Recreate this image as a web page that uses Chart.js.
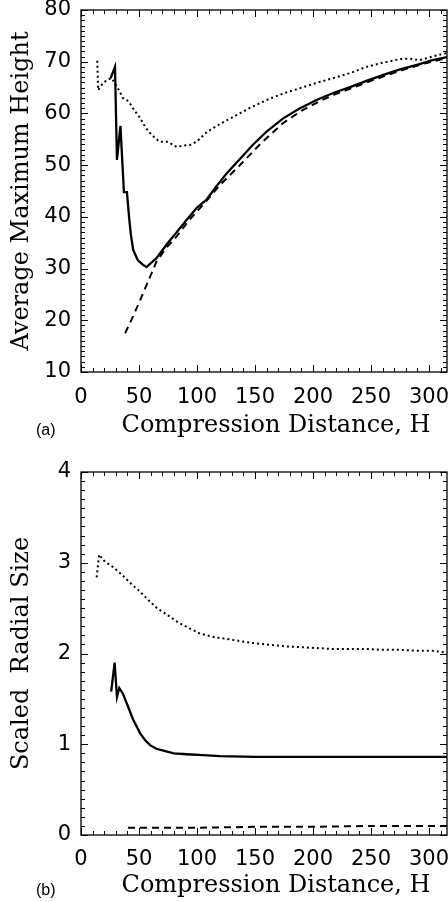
<!DOCTYPE html>
<html>
<head>
<meta charset="utf-8">
<script src="https://cdn.jsdelivr.net/npm/chart.js@4.4.1/dist/chart.umd.min.js"></script>
<style>
  body { margin: 0; background: #fff; }
  .panel { position: absolute; left: 0; }
</style>
</head>
<body>
<div class="panel" style="top:0"><canvas id="chartA" width="448" height="450"></canvas></div>
<div class="panel" style="top:450px"><canvas id="chartB" width="448" height="452"></canvas></div>
<script>
// (a) average maximum height vs compression distance
const aSolidH = [25.5, 29.3, 31, 34, 37, 39.6, 41.5, 43, 45, 49, 53, 56.5, 60, 65, 70, 75, 82, 91, 100, 108.5, 117, 125.5, 137, 148, 160, 174, 188, 203, 218, 232, 246, 260, 275, 289.5, 303, 315.5];
const aSolidVal = [66.8, 69.0, 51.0, 57.6, 44.8, 44.8, 39.8, 36.5, 33.6, 31.6, 30.8, 30.3, 31.0, 32.0, 33.5, 35.0, 36.9, 39.4, 41.8, 43.4, 46.0, 48.4, 51.2, 53.9, 56.5, 59.0, 60.9, 62.6, 64.0, 65.1, 66.3, 67.4, 68.5, 69.4, 70.3, 70.9];
const aDashH = [38, 45, 51, 58, 65, 73, 82, 93, 105, 120, 137, 155, 174, 190, 205, 220, 235, 250, 265, 280, 295, 310, 315.5];
const aDashVal = [17.5, 20.8, 23.9, 27.6, 31.3, 33.9, 36.1, 39.3, 42.3, 46.2, 50.0, 54.2, 58.1, 60.5, 62.3, 63.8, 65.0, 66.3, 67.5, 68.6, 69.6, 70.4, 70.7];
const aDotH = [14, 14.8, 19, 23.6, 26.4, 29, 33, 36, 39.5, 42, 46, 51, 55, 59.5, 64, 68, 75, 82.5, 88, 94, 100, 108.5, 120, 131, 145, 160, 175, 189, 203, 217, 232, 246, 260, 275, 283, 292, 303, 315.5];
const aDotVal = [70.2, 64.5, 65.9, 66.6, 66.8, 65.9, 64.4, 63.0, 62.6, 62.0, 60.6, 59.1, 57.5, 56.2, 55.2, 54.5, 54.5, 53.5, 53.8, 53.9, 54.6, 56.4, 58.0, 59.3, 61.0, 62.6, 63.9, 64.9, 65.9, 66.8, 67.8, 69.0, 69.8, 70.5, 70.6, 70.3, 71.0, 71.7];

// (b) scaled radial size vs compression distance
const bSolidH = [26, 29, 31, 33, 36, 40.7, 45, 51, 55, 59.5, 65, 71, 80, 91, 105, 120, 150, 200, 250, 300, 315.5];
const bSolidVal = [1.58, 1.90, 1.52, 1.62, 1.56, 1.41, 1.27, 1.12, 1.05, 0.99, 0.95, 0.93, 0.90, 0.89, 0.88, 0.87, 0.86, 0.86, 0.86, 0.86, 0.86];
const bDashH = [40.5, 100, 150, 200, 250, 315.5];
const bDashVal = [0.08, 0.08, 0.09, 0.09, 0.10, 0.10];
const bDotH = [13.5, 15.6, 20.7, 28, 36, 43, 51, 58, 65.5, 75, 84, 93, 102.5, 115, 131, 145, 160, 175, 189, 203, 217, 232, 246, 260, 275, 290, 303, 315.5];
const bDotVal = [2.84, 3.09, 3.01, 2.95, 2.86, 2.77, 2.68, 2.59, 2.50, 2.42, 2.34, 2.28, 2.22, 2.18, 2.15, 2.12, 2.10, 2.08, 2.07, 2.06, 2.05, 2.05, 2.05, 2.04, 2.04, 2.03, 2.03, 2.01];

const xTicks = [0, 50, 100, 150, 200, 250, 300];
const yTicksA = [10, 20, 30, 40, 50, 60, 70, 80];
const yTicksB = [0, 1, 2, 3, 4];

const pts = (hs, vs) => hs.map((h, i) => ({ x: h, y: vs[i] }));

// box, inward major/minor ticks on all four sides, x title and panel tag
const frameTicks = {
    id: 'frameTicks',
    afterDatasetsDraw(chart, args, opts) {
        const { ctx, chartArea: a, scales: { x, y } } = chart;
        ctx.save();
        ctx.strokeStyle = '#000';
        ctx.lineWidth = 1.3;
        ctx.strokeRect(a.left, a.top, a.right - a.left, a.bottom - a.top);
        ctx.lineWidth = 1;
        const seg = (x1, y1, x2, y2) => { ctx.beginPath(); ctx.moveTo(x1, y1); ctx.lineTo(x2, y2); ctx.stroke(); };
        const nx = Math.floor((x.max - x.min) / opts.minorX + 1e-6);
        for (let i = 0; i <= nx; i++) {
            const px = Math.round(x.getPixelForValue(x.min + i * opts.minorX)) + 0.5;
            const len = i % opts.perX === 0 ? 7 : 4;
            seg(px, a.bottom, px, a.bottom - len);
            seg(px, a.top, px, a.top + len);
        }
        const ny = Math.round((y.max - y.min) / opts.minorY);
        for (let i = 0; i <= ny; i++) {
            const py = Math.round(y.getPixelForValue(y.min + i * opts.minorY)) + 0.5;
            const len = i % opts.perY === 0 ? 7 : 4;
            seg(a.left, py, a.left + len, py);
            seg(a.right, py, a.right - len, py);
        }
        ctx.fillStyle = '#000';
        ctx.textBaseline = 'middle';
        ctx.textAlign = 'center';
        ctx.font = '24px "DejaVu Serif"';
        ctx.fillText('Compression Distance, H', 276, opts.titleY);
        ctx.textAlign = 'left';
        ctx.font = '16px "Liberation Sans"';
        ctx.fillText(opts.tag, 36, opts.tagY);
        ctx.restore();
    }
};

function makeChart(id, cfg) {
    const line = (data, dash, width) => ({
        data, borderColor: '#000', borderWidth: width, borderDash: dash,
        pointRadius: 0, tension: 0, fill: false
    });
    return new Chart(document.getElementById(id), {
        type: 'line',
        data: {
            datasets: [
                line(cfg.dot, [2, 3], 2),
                line(cfg.dash, [7, 5], 2),
                line(cfg.solid, [], 2.3)
            ]
        },
        options: {
            responsive: false,
            animation: false,
            events: [],
            layout: { padding: { top: cfg.top, right: 1, left: 0, bottom: 0 } },
            plugins: {
                legend: { display: false },
                tooltip: { enabled: false },
                frameTicks: cfg.frame
            },
            scales: {
                x: {
                    type: 'linear', min: 0, max: 315.5,
                    grid: { display: false, drawTicks: false },
                    border: { display: false },
                    afterBuildTicks: s => { s.ticks = xTicks.map(v => ({ value: v })); },
                    afterFit: s => { s.height = cfg.xh; s.paddingLeft = 0; s.paddingRight = 0; },
                    ticks: { color: '#000', font: { family: 'DejaVu Sans', size: 21 }, padding: cfg.xpad, maxRotation: 0, autoSkip: false }
                },
                y: {
                    type: 'linear', min: cfg.ymin, max: cfg.ymax,
                    grid: { display: false, drawTicks: false },
                    border: { display: false },
                    afterBuildTicks: s => { s.ticks = cfg.yTicks.map(v => ({ value: v })); },
                    afterFit: s => { s.width = 81; s.paddingTop = 0; s.paddingBottom = 0; },
                    ticks: { color: '#000', font: { family: 'DejaVu Sans', size: 21 }, padding: 10 },
                    title: {
                        display: true, text: cfg.ytitle, color: '#000',
                        font: { family: 'DejaVu Serif', size: 24 }, padding: { top: 7, bottom: 0 }
                    }
                }
            }
        },
        plugins: [frameTicks]
    });
}

makeChart('chartA', {
    solid: pts(aSolidH, aSolidVal), dash: pts(aDashH, aDashVal), dot: pts(aDotH, aDotVal),
    top: 10, xh: 78, xpad: 13, ymin: 10, ymax: 80, yTicks: yTicksA,
    ytitle: 'Average Maximum Height',
    frame: { minorX: 10, perX: 5, minorY: 1, perY: 10, titleY: 426, tag: '(a)', tagY: 431 }
});

makeChart('chartB', {
    solid: pts(bSolidH, bSolidVal), dash: pts(bDashH, bDashVal), dot: pts(bDotH, bDotVal),
    top: 22, xh: 67, xpad: 12, ymin: 0, ymax: 4, yTicks: yTicksB,
    ytitle: 'Scaled  Radial Size',
    frame: { minorX: 10, perX: 5, minorY: 0.1, perY: 10, titleY: 436, tag: '(b)', tagY: 441 }
});
</script>
</body>
</html>
